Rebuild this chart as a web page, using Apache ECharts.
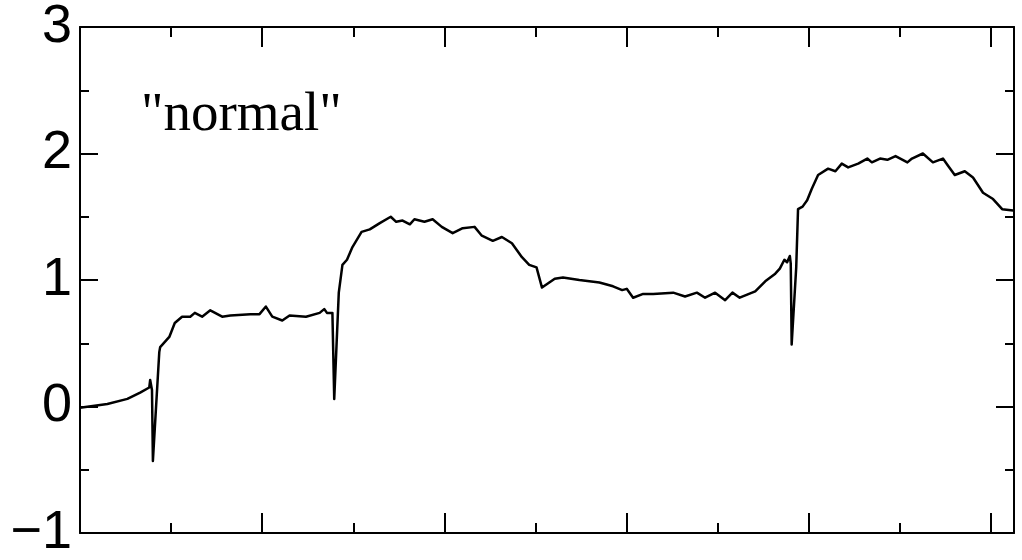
<!DOCTYPE html>
<html>
<head>
<meta charset="utf-8">
<script src="https://cdn.jsdelivr.net/npm/echarts@6/dist/echarts.min.js"></script>
<style>html,body{margin:0;padding:0;background:#fff}#c{width:1022px;height:560px}</style>
</head>
<body>
<div id="c"></div>
<script>
var xs = [0.00,0.30,0.52,0.66,0.76,0.77,0.79,0.80,0.87,0.88,0.98,1.04,1.12,1.21,1.26,1.34,1.43,1.56,1.65,1.87,1.97,2.04,2.11,2.22,2.30,2.48,2.63,2.68,2.71,2.77,2.79,2.84,2.88,2.93,2.99,3.09,3.18,3.29,3.41,3.47,3.54,3.62,3.67,3.78,3.87,3.97,4.09,4.20,4.33,4.41,4.53,4.63,4.74,4.85,4.93,5.01,5.07,5.21,5.30,5.48,5.70,5.85,5.95,6.00,6.07,6.18,6.29,6.51,6.64,6.77,6.86,6.97,7.08,7.16,7.24,7.41,7.52,7.63,7.68,7.73,7.76,7.79,7.80,7.81,7.86,7.88,7.93,7.98,8.03,8.10,8.21,8.29,8.36,8.43,8.54,8.64,8.69,8.78,8.86,8.95,9.08,9.13,9.25,9.36,9.47,9.53,9.60,9.71,9.80,9.91,10.02,10.12,10.24];
var ys = [-0.01,0.02,0.06,0.11,0.15,0.21,0.13,-0.43,0.43,0.47,0.55,0.66,0.71,0.71,0.74,0.71,0.76,0.71,0.72,0.73,0.73,0.79,0.71,0.68,0.72,0.71,0.74,0.77,0.74,0.74,0.06,0.90,1.12,1.16,1.26,1.38,1.40,1.45,1.50,1.46,1.47,1.44,1.48,1.46,1.48,1.42,1.37,1.41,1.42,1.35,1.31,1.34,1.29,1.18,1.12,1.10,0.94,1.01,1.02,1.00,0.98,0.95,0.92,0.93,0.86,0.89,0.89,0.90,0.87,0.90,0.86,0.90,0.84,0.90,0.86,0.91,0.99,1.05,1.09,1.16,1.14,1.19,1.13,0.49,1.10,1.56,1.58,1.63,1.72,1.83,1.88,1.86,1.92,1.89,1.92,1.96,1.93,1.96,1.95,1.98,1.93,1.96,2.00,1.93,1.96,1.90,1.83,1.86,1.81,1.69,1.64,1.56,1.55];
var yTickLabels = {"3":"3","2":"2","1":"1","0":"0","-1":"\u22121"};
var annotation = '"normal"';

var data = xs.map(function(x,i){return [x, ys[i]];});
var chart = echarts.init(document.getElementById('c'));
var lineStyle = {color:'#000', width:2};
function xAxis(pos){
  return {type:'value', position:pos, min:0, max:10.25, interval:2,
    axisLine:{show:true, onZero:false, lineStyle:lineStyle},
    axisTick:{show:true, inside:true, length:20, lineStyle:{color:'#000', width:2}},
    minorTick:{show:true, splitNumber:2, length:10, lineStyle:{color:'#000', width:2}},
    axisLabel:{show:false}, splitLine:{show:false}, minorSplitLine:{show:false}};
}
function yAxis(pos, labels){
  return {type:'value', position:pos, min:-1, max:3, interval:1,
    axisLine:{show:true, onZero:false, lineStyle:lineStyle},
    axisTick:{show:true, inside:true, length:18, lineStyle:{color:'#000', width:2}},
    minorTick:{show:true, splitNumber:2, length:9, lineStyle:{color:'#000', width:2}},
    axisLabel:{show:labels, margin:8, color:'#000', fontSize:54, fontFamily:'Liberation Sans',
      formatter:function(v){return yTickLabels[String(v)];}},
    splitLine:{show:false}, minorSplitLine:{show:false}};
}
chart.setOption({
  animation:false,
  backgroundColor:'#fff',
  grid:{left:80, right:8, top:26, bottom:26, containLabel:false},
  xAxis:[xAxis('bottom'), xAxis('top')],
  yAxis:[yAxis('left', true), yAxis('right', false)],
  graphic:[{type:'text', left:141, top:88, style:{text:annotation, fontSize:55, fontFamily:'Liberation Serif', fill:'#000'}}],
  series:[{type:'line', data:data, showSymbol:false, symbol:'none', lineStyle:{color:'#000', width:2.5, join:'round'}, xAxisIndex:0, yAxisIndex:0}]
});
</script>
</body>
</html>
